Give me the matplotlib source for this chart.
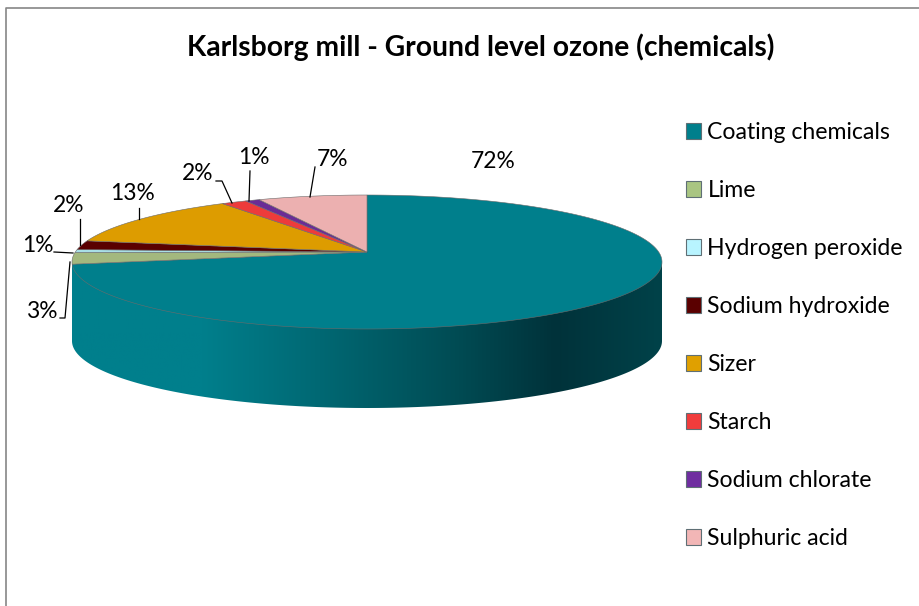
import numpy as np
import matplotlib
matplotlib.use("Agg")
import matplotlib.pyplot as plt
from matplotlib.colors import LinearSegmentedColormap
from matplotlib.patches import Patch, Polygon

title = "Karlsborg mill - Ground level ozone (chemicals)"
names = ["Coating chemicals", "Lime", "Hydrogen peroxide", "Sodium hydroxide",
         "Sizer", "Starch", "Sodium chlorate", "Sulphuric acid"]
# labels are the rounded ones printed on the chart
shares = [72.1, 2.8, 0.7, 2.2, 12.8, 1.6, 0.9, 6.9]
labels = ["72%", "3%", "1%", "2%", "13%", "2%", "1%", "7%"]
top_colors = ["#007f8c", "#a3b87e", "#a9dfe6", "#5a0000", "#dd9c00", "#ed3b3b", "#6a2c96", "#ecb0b0"]
key_colors = ["#007f8c", "#a9c582", "#b8f4ff", "#5a0000", "#e0a000", "#f03c3c", "#6f2da0", "#f2b6b6"]

label_xy = [(493, 162), (43, 311), (38, 245), (69, 205), (132, 193), (198, 173), (254, 157), (333, 159)]
leaders = [None,
           [(60, 318), (65, 318), (70, 262)],
           [(54, 252), (73, 253)],
           [(80, 219), (80, 245)],
           [(139, 208), (139, 219)],
           [(216, 181), (222, 181), (232, 203)],
           [(250, 171), (249, 201)],
           [(315, 167), (310, 197)]]

# pie geometry in pixels
cx, cy = 367, 262
rx, ry = 295, 67
depth = 79
lift = 10  # apex sits above the ellipse centre because of the perspective
tilt = lift / ry
width = rx * np.sqrt(1 - (lift / ry) ** 2)


def project(theta):
    # clockwise angle from 12 o'clock -> picture coords
    u, v = np.sin(theta), np.cos(theta)
    d = 1 + tilt * v
    return cx + width * u / d, cy - (ry * v + lift) / d


fig = plt.figure(figsize=(9.2, 6.06), dpi=100)
ax = fig.add_axes([0, 0, 1, 1])
ax.set_xlim(0, 920)
ax.set_ylim(606, 0)
ax.axis("off")
plt.rcParams["font.family"] = ["Lato", "DejaVu Sans"]

# chart frame, only top and left are inside the picture
ax.plot([6, 6, 920], [606, 8, 8], color="#868686", lw=1.2)

# side wall with horizontal shading
t = np.linspace(0, np.pi, 200)
ex, ey = cx + rx * np.cos(t), cy + ry * np.sin(t)
wall_xy = np.r_[np.c_[ex, ey - 3], np.c_[ex, ey + depth][::-1]]
wall = Polygon(wall_xy, closed=True, fc="none", ec="none")
ax.add_patch(wall)
shade = LinearSegmentedColormap.from_list("wall", [
    (0.0, "#007f8c"), (0.22, "#007f8c"), (0.42, "#006873"), (0.65, "#004c54"),
    (0.82, "#00323a"), (1.0, "#004249")])
img = ax.imshow(np.linspace(0, 1, 256)[None, :], cmap=shade, extent=[cx - rx, cx + rx, cy + ry + depth, cy - 3],
                aspect="auto", zorder=2)
img.set_clip_path(wall)
ax.set_xlim(0, 920)
ax.set_ylim(606, 0)

# top face, slices clockwise from 12 o'clock
edges = np.r_[0, np.cumsum(shares)] / np.sum(shares) * 2 * np.pi
x0, y0 = cx, cy - lift
for a, b, col in zip(edges[:-1], edges[1:], top_colors):
    th = np.linspace(a, b, max(int((b - a) * 80), 4))
    x, y = project(th)
    ax.add_patch(Polygon(np.c_[np.r_[x0, x], np.r_[y0, y]], closed=True, fc=col,
                         ec="#6b6b6b", lw=0.4, zorder=3))

# percentage labels and leader lines
for txt, (lx, ly), lead in zip(labels, label_xy, leaders):
    ax.text(lx, ly, txt, fontsize=16.4, color="black", ha="center", va="center", zorder=5)
    if lead:
        ax.plot(*zip(*lead), color="black", lw=0.9, zorder=4)

ax.text(481, 47, title, fontsize=20.3, fontweight="bold", ha="center", va="center")

handles = [Patch(fc=c, ec="#5f6f75", lw=0.8) for c in key_colors]
ax.legend(handles, names, loc="upper left", bbox_to_anchor=(686 / 920, 1 - 122 / 606), frameon=False,
          fontsize=16.6, labelspacing=1.605, handlelength=0.66, handleheight=0.66, handletextpad=0.27,
          borderpad=0, borderaxespad=0)

fig.savefig("out.png", dpi=100)
